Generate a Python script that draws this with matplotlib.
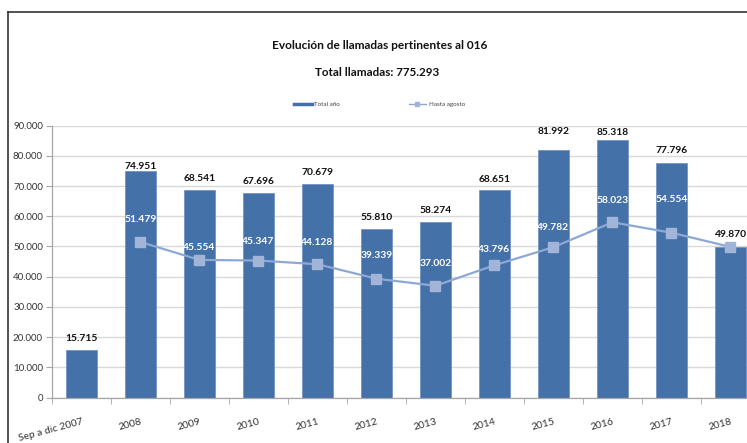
import numpy as np
import matplotlib.pyplot as plt
from matplotlib.lines import Line2D

# data
categories = ["Sep a dic 2007", "2008", "2009", "2010", "2011", "2012",
              "2013", "2014", "2015", "2016", "2017", "2018"]
total_anio = [15715, 74951, 68541, 67696, 70679, 55810,
              58274, 68651, 81992, 85318, 77796, 49870]
hasta_agosto = [None, 51479, 45554, 45347, 44128, 39339,
                37002, 43796, 49782, 58023, 54554, 49870]
total_llamadas = "775.293"

# label nudges (points above the bar top / marker)
bar_label_off = [8, 3.6, 8.4, 8.1, 8, 8.4, 8, 8, 13, 5, 8.6, 8.6]
line_label_off = [None, 16, 9, 14, 16, 17, 16, 11.5, 14, 16, 24, None]

BAR = "#4571A9"
LINE = "#8EA8D5"
MARK = "#A2B5D9"
FONT = "Lato"


def fmt(v):
    return f"{v:,.0f}".replace(",", ".")


plt.rcParams["font.family"] = [FONT, "DejaVu Sans"]

fig = plt.figure(figsize=(7.47, 4.43), dpi=100)
ax = fig.add_axes([0.0696, 0.1027, 0.9478, 0.6136])

x = np.arange(len(categories))
ax.bar(x, total_anio, width=0.52, color=BAR, edgecolor="#6C8DC0",
       linewidth=0.5, zorder=2, label="Total año")

lx = [i for i, v in enumerate(hasta_agosto) if v is not None]
ly = [v for v in hasta_agosto if v is not None]
ax.plot(lx, ly, color=LINE, lw=1.6, marker="s", markersize=6.5,
        markerfacecolor=MARK, markeredgecolor=MARK, zorder=3,
        label="Hasta agosto")

for i, v in enumerate(total_anio):
    ax.annotate(fmt(v), (i, v), xytext=(0, bar_label_off[i]),
                textcoords="offset points", ha="center", va="center",
                fontsize=7.4, fontweight="bold", color="#111111", zorder=4)

for i, v in enumerate(hasta_agosto):
    if v is None or line_label_off[i] is None:
        continue
    ax.annotate(fmt(v), (i, v), xytext=(0, line_label_off[i]),
                textcoords="offset points", ha="center", va="center",
                fontsize=7.4, fontweight="bold", color="white", zorder=4)

ax.set_xlim(-0.5, len(categories) - 0.5)
ax.set_ylim(0, 90000)
ax.set_yticks(np.arange(0, 90001, 10000))
ax.set_yticklabels([fmt(v) for v in np.arange(0, 90001, 10000)])
ax.grid(axis="y", color="#D9D9D9", lw=1, zorder=0)
ax.set_axisbelow(True)

ax.set_xticks(x)
ax.set_xticklabels(categories, rotation=15, ha="right",
                   rotation_mode="anchor")
ax.set_xticks(np.arange(-0.5, len(categories), 1), minor=True)
ax.tick_params(axis="x", which="major", length=0, pad=14,
               labelsize=7.4, labelcolor="#333333")
ax.tick_params(axis="x", which="minor", length=4, color="#A6A6A6")
ax.tick_params(axis="y", length=4, color="#A6A6A6", labelsize=7,
               labelcolor="#333333", pad=2.5)

for s in ["top", "right"]:
    ax.spines[s].set_visible(False)
for s in ["left", "bottom"]:
    ax.spines[s].set_color("#A6A6A6")
    ax.spines[s].set_linewidth(0.9)

fig.text(0.508, 0.898, "Evolución de llamadas pertinentes al 016",
         ha="center", va="center", fontsize=8.6, fontweight="bold",
         color="#111111")
fig.text(0.505, 0.837, "Total llamadas: " + total_llamadas,
         ha="center", va="center", fontsize=8.4, fontweight="bold",
         color="#111111")

handles = [Line2D([], [], color=BAR, lw=2.5),
           Line2D([], [], color=LINE, lw=1, marker="s", markersize=2.5,
                  markerfacecolor=MARK, markeredgecolor=MARK)]
fig.legend(handles, ["Total año", "Hasta agosto"], loc="center",
           bbox_to_anchor=(0.508, 0.765), ncol=2, frameon=False,
           fontsize=4.5, handlelength=2.8, handletextpad=0.4,
           columnspacing=11, labelcolor="#444444")

# frame lines of the original picture
fig.add_artist(Line2D([0.0107, 0.0107], [0.0, 0.973], color="#333333",
                      lw=1.2, transform=fig.transFigure))
fig.add_artist(Line2D([0.0107, 1.0], [0.973, 0.973], color="#333333",
                      lw=1.2, transform=fig.transFigure))

fig.savefig("out.png", dpi=100)
